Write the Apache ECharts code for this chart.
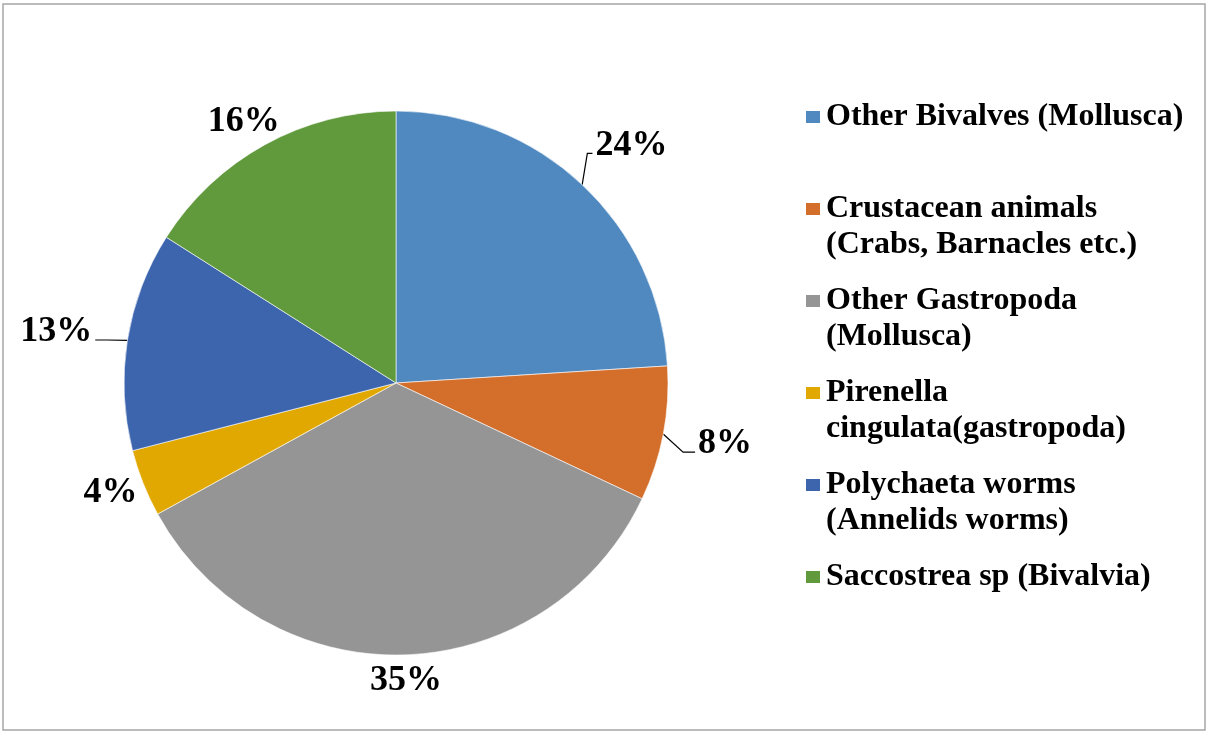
<!DOCTYPE html>
<html>
<head>
<meta charset="utf-8">
<script src="https://cdn.jsdelivr.net/npm/echarts@6/dist/echarts.min.js"></script>
<style>
html,body{margin:0;padding:0;background:#fff;}
#chart{width:1207px;height:731px;}
</style>
</head>
<body>
<div id="chart"></div>
<script>
const categories = [
  'Other Bivalves (Mollusca)',
  'Crustacean animals (Crabs, Barnacles etc.)',
  'Other Gastropoda (Mollusca)',
  'Pirenella cingulata(gastropoda)',
  'Polychaeta worms (Annelids worms)',
  'Saccostrea sp (Bivalvia)'
];
const legendLines = [
  ['Other Bivalves (Mollusca)', ' '],
  ['Crustacean animals', '(Crabs, Barnacles etc.)'],
  ['Other Gastropoda', '(Mollusca)'],
  ['Pirenella', 'cingulata(gastropoda)'],
  ['Polychaeta worms', '(Annelids worms)'],
  ['Saccostrea sp (Bivalvia)', ' ']
];
const values = [24, 8, 35, 4, 13, 16];
const colors = ['#4F89C0', '#D46E2B', '#959595', '#E0A800', '#3D65AE', '#619A3D'];
const showLeader = [true, true, false, false, true, false];

const FONT = '"Liberation Serif", "Times New Roman", serif';
const LH = 36;

const chart = echarts.init(document.getElementById('chart'), null, {renderer: 'canvas'});

function layoutLabel(params) {
  const data = chart.getModel().getSeriesByIndex(0).getData();
  const lay = data.getItemLayout(params.dataIndex);
  const mid = (lay.startAngle + lay.endAngle) / 2;
  const dx = Math.cos(mid), dy = Math.sin(mid);
  const w = params.labelRect.width, h = params.labelRect.height;
  const lead = showLeader[params.dataIndex];
  const gap = lead ? 36 : 8;
  const d = lay.r + gap;
  const lx = lay.cx + dx * d + dx * w / 2;
  const ly = lay.cy + dy * d + dy * h / 2;
  const res = {x: lx, y: ly, align: 'center', verticalAlign: 'middle'};
  if (lead) {
    const ex = lay.cx + dx * lay.r, ey = lay.cy + dy * lay.r;
    const side = dx >= 0 ? 1 : -1;
    const endX = lx - side * (w / 2 + 3);
    const endY = ly + h / 2 - 10;
    const seg = Math.min(12, Math.abs(endX - ex) / 2);
    const bendX = endX - side * seg;
    res.labelLinePoints = [[ex, ey], [bendX, endY], [endX, endY]];
  }
  return res;
}

chart.setOption({
  animation: false,
  backgroundColor: '#fff',
  color: colors,
  graphic: [{
    type: 'rect',
    shape: {x: 3, y: 4, width: 1202, height: 726},
    style: {fill: 'none', stroke: '#a6a6a6', lineWidth: 1.5},
    silent: true
  }],
  legend: {
    orient: 'vertical',
    left: 804,
    top: 63,
    padding: 0,
    itemWidth: 16,
    itemHeight: 14,
    itemGap: 92 - 3 * LH,
    icon: 'rect',
    data: categories,
    formatter: function (name) {
      const i = categories.indexOf(name);
      return ' \n' + legendLines[i].join('\n');
    },
    textStyle: {
      fontFamily: FONT,
      fontWeight: 'bold',
      fontSize: 32,
      color: '#000',
      lineHeight: LH
    }
  },
  series: [{
    type: 'pie',
    center: [396, 383],
    radius: 272,
    startAngle: 90,
    clockwise: true,
    avoidLabelOverlap: false,
    itemStyle: {borderColor: '#fff', borderWidth: 0.6},
    label: {
      show: true,
      position: 'outside',
      formatter: '{c}%',
      fontFamily: FONT,
      fontWeight: 'bold',
      fontSize: 36,
      color: '#000',
      distanceToLabelLine: 4
    },
    labelLine: {
      show: true,
      length: 22,
      length2: 10,
      lineStyle: {color: '#000', width: 1.2}
    },
    labelLayout: layoutLabel,
    emphasis: {disabled: true},
    data: categories.map(function (c, i) {
      return {
        name: c,
        value: values[i],
        labelLine: {show: showLeader[i]}
      };
    })
  }]
});
</script>
</body>
</html>
